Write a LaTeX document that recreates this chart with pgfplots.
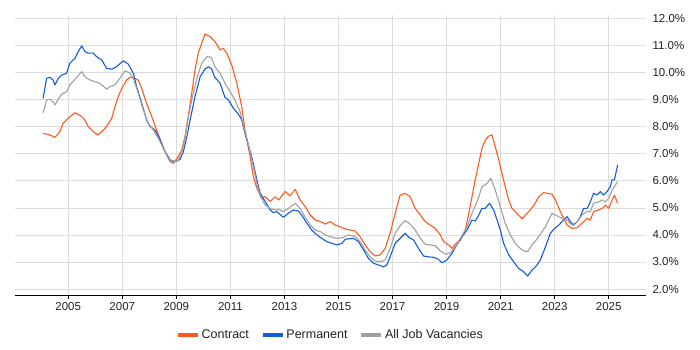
\documentclass[border=0pt]{standalone}
\usepackage{pgfplots}
\pgfplotsset{compat=1.18}
\usepackage{fontspec}
\setmainfont{Liberation Sans}
\definecolor{ccontract}{RGB}{255,90,30}
\definecolor{cperm}{RGB}{20,90,220}
\definecolor{call}{RGB}{160,160,160}
\definecolor{cgrid}{RGB}{220,220,220}
\definecolor{ctext}{RGB}{34,34,34}
\begin{document}
\begin{tikzpicture}[x=1pt,y=1pt]
\path[use as bounding box] (0,0) rectangle (700,350);
\begin{axis}[
  at={(15pt,55pt)}, anchor=south west,
  scale only axis, width=631pt, height=280pt,
  xmin=2003.03, xmax=2026.38, ymin=1.78, ymax=12.12,
  axis x line*=bottom, axis y line*=right,
  y axis line style={draw=none},
  x axis line style={black, line width=0.9pt},
  xtick={2005,2007,...,2025},
  ytick={2,3,...,12},
  xticklabel style={/pgf/number format/1000 sep={}, font=\fontsize{11.5}{13}\selectfont, text=ctext},
  x tick label style={/pgf/number format/assume math mode=true},
  yticklabel={\pgfmathprintnumber[fixed,fixed zerofill,precision=1]{\tick}\%},
  yticklabel style={font=\fontsize{11.5}{13}\selectfont, text=ctext, /pgf/number format/assume math mode=true, anchor=west, xshift=-1pt},
  ytick style={draw=none},
  xtick style={black, line width=0.6pt},
  tick align=outside, major tick length=4pt,
  xmajorgrids, ymajorgrids,
  grid style={cgrid, line width=0.6pt},
  clip=false,
  legend columns=3,
  legend style={at={(0.5,0)}, anchor=center, yshift=-40pt, draw=none, fill=none,
    font=\fontsize{12.5}{14}\selectfont, text=ctext,
    /tikz/every even column/.append style={column sep=10pt}},
  legend image code/.code={\draw[line width=3.5pt,#1] (0pt,0pt) -- (20pt,0pt);},
  every axis plot/.append style={line width=1.1pt, line join=round},
]
\addplot[ccontract] coordinates {
(2004.07,7.75)(2004.32,7.69)(2004.51,7.6)(2004.69,7.81)(2004.81,8.12)(2005.0,8.31)(2005.25,8.51)(2005.5,8.37)(2005.62,8.24)(2005.74,8.0)(2005.93,7.81)(2006.09,7.69)(2006.24,7.81)(2006.42,8.0)(2006.61,8.31)(2006.73,8.73)(2006.85,9.1)(2006.98,9.41)(2007.16,9.72)(2007.29,9.82)(2007.47,9.78)(2007.59,9.72)(2007.72,9.41)(2007.9,8.86)(2008.09,8.37)(2008.27,7.87)(2008.46,7.38)(2008.64,6.95)(2008.77,6.7)(2008.89,6.64)(2009.07,6.89)(2009.2,7.13)(2009.32,7.63)(2009.44,8.37)(2009.57,9.23)(2009.69,10.09)(2009.81,10.71)(2009.94,11.08)(2010.06,11.42)(2010.25,11.32)(2010.43,11.14)(2010.62,10.83)(2010.74,10.89)(2010.87,10.71)(2011.05,10.27)(2011.24,9.6)(2011.42,8.73)(2011.54,7.87)(2011.73,6.89)(2011.85,6.15)(2011.98,5.72)(2012.16,5.35)(2012.29,5.41)(2012.47,5.23)(2012.66,5.41)(2012.78,5.29)(2013.03,5.6)(2013.21,5.44)(2013.4,5.68)(2013.58,5.29)(2013.77,5.04)(2013.96,4.73)(2014.14,4.55)(2014.33,4.49)(2014.51,4.4)(2014.7,4.49)(2014.88,4.36)(2015.06,4.3)(2015.25,4.22)(2015.43,4.18)(2015.62,4.14)(2015.8,3.93)(2015.99,3.63)(2016.17,3.38)(2016.36,3.22)(2016.54,3.26)(2016.73,3.5)(2016.91,4.06)(2017.1,4.8)(2017.28,5.47)(2017.47,5.53)(2017.65,5.41)(2017.84,4.98)(2018.03,4.73)(2018.21,4.49)(2018.4,4.36)(2018.58,4.24)(2018.77,4.0)(2018.89,3.75)(2019.07,3.63)(2019.2,3.5)(2019.32,3.66)(2019.51,3.81)(2019.69,4.18)(2019.81,4.73)(2019.94,5.41)(2020.06,6.03)(2020.19,6.64)(2020.31,7.2)(2020.43,7.5)(2020.56,7.65)(2020.68,7.69)(2020.8,7.26)(2020.93,6.77)(2021.05,6.27)(2021.17,5.78)(2021.3,5.29)(2021.42,4.98)(2021.6,4.8)(2021.79,4.59)(2021.91,4.73)(2022.1,4.92)(2022.28,5.17)(2022.4,5.39)(2022.59,5.56)(2022.72,5.54)(2022.9,5.5)(2023.03,5.29)(2023.21,4.86)(2023.46,4.36)(2023.64,4.24)(2023.83,4.26)(2024.01,4.43)(2024.2,4.61)(2024.32,4.55)(2024.44,4.86)(2024.63,4.92)(2024.76,4.98)(2024.88,5.1)(2025.0,4.98)(2025.13,5.29)(2025.21,5.47)(2025.33,5.17)
};
\addlegendentry{Contract}
\addplot[cperm] coordinates {
(2004.07,9.04)(2004.2,9.78)(2004.32,9.82)(2004.44,9.72)(2004.51,9.54)(2004.63,9.78)(2004.76,9.9)(2004.94,9.97)(2005.06,10.34)(2005.25,10.52)(2005.37,10.77)(2005.5,10.98)(2005.62,10.77)(2005.74,10.71)(2005.93,10.71)(2006.05,10.58)(2006.24,10.46)(2006.42,10.15)(2006.61,10.12)(2006.79,10.21)(2007.04,10.43)(2007.22,10.31)(2007.41,9.97)(2007.53,9.47)(2007.72,8.86)(2007.9,8.24)(2008.03,8.0)(2008.21,7.87)(2008.4,7.5)(2008.58,7.07)(2008.77,6.77)(2008.96,6.7)(2009.14,6.79)(2009.26,7.07)(2009.39,7.63)(2009.51,8.24)(2009.69,9.1)(2009.88,9.84)(2010.06,10.12)(2010.19,10.21)(2010.31,10.12)(2010.41,9.84)(2010.62,9.6)(2010.8,9.08)(2010.93,8.98)(2011.11,8.68)(2011.3,8.46)(2011.42,8.24)(2011.54,7.75)(2011.79,6.89)(2011.98,6.03)(2012.1,5.54)(2012.29,5.23)(2012.47,4.92)(2012.59,4.82)(2012.72,4.86)(2012.96,4.65)(2013.15,4.8)(2013.33,4.92)(2013.52,4.88)(2013.64,4.73)(2013.83,4.43)(2014.01,4.18)(2014.2,4.0)(2014.38,3.87)(2014.57,3.75)(2014.76,3.69)(2014.94,3.63)(2015.13,3.69)(2015.25,3.84)(2015.56,3.87)(2015.74,3.75)(2015.93,3.44)(2016.11,3.13)(2016.3,2.95)(2016.48,2.89)(2016.67,2.82)(2016.79,2.89)(2016.91,3.19)(2017.1,3.69)(2017.28,3.87)(2017.47,4.06)(2017.6,3.91)(2017.78,3.81)(2017.96,3.5)(2018.15,3.22)(2018.33,3.19)(2018.52,3.17)(2018.7,3.1)(2018.83,2.97)(2019.01,3.07)(2019.2,3.32)(2019.38,3.63)(2019.57,3.93)(2019.76,4.18)(2019.94,4.55)(2020.06,4.51)(2020.19,4.73)(2020.31,4.98)(2020.43,4.98)(2020.59,5.17)(2020.74,4.92)(2020.87,4.55)(2020.99,4.18)(2021.11,3.69)(2021.3,3.26)(2021.48,3.01)(2021.67,2.76)(2021.85,2.64)(2022.0,2.48)(2022.16,2.7)(2022.35,2.89)(2022.47,3.07)(2022.66,3.56)(2022.84,4.06)(2022.96,4.2)(2023.15,4.36)(2023.33,4.55)(2023.46,4.67)(2023.58,4.49)(2023.7,4.36)(2023.83,4.49)(2023.95,4.67)(2024.07,4.98)(2024.2,4.98)(2024.32,5.22)(2024.44,5.54)(2024.57,5.47)(2024.69,5.6)(2024.81,5.47)(2024.94,5.6)(2025.06,5.78)(2025.12,6.03)(2025.21,6.03)(2025.33,6.58)
};
\addlegendentry{Permanent}
\addplot[call] coordinates {
(2004.07,8.51)(2004.2,8.98)(2004.32,9.01)(2004.44,8.92)(2004.51,8.8)(2004.63,9.01)(2004.76,9.2)(2004.94,9.29)(2005.06,9.54)(2005.25,9.75)(2005.5,10.03)(2005.62,9.84)(2005.8,9.72)(2005.99,9.66)(2006.17,9.6)(2006.42,9.38)(2006.54,9.47)(2006.73,9.54)(2006.91,9.78)(2007.1,10.06)(2007.29,9.97)(2007.41,9.78)(2007.59,9.23)(2007.78,8.61)(2007.96,8.12)(2008.15,7.87)(2008.33,7.57)(2008.52,7.2)(2008.7,6.83)(2008.89,6.67)(2009.07,6.77)(2009.2,7.01)(2009.32,7.57)(2009.44,8.31)(2009.57,8.98)(2009.76,9.78)(2009.94,10.34)(2010.13,10.58)(2010.29,10.56)(2010.43,10.21)(2010.62,9.97)(2010.8,9.6)(2010.99,9.29)(2011.17,8.98)(2011.36,8.55)(2011.48,8.06)(2011.6,7.6)(2011.79,6.8)(2011.98,5.9)(2012.1,5.45)(2012.29,5.1)(2012.47,4.98)(2012.66,4.92)(2012.81,4.94)(2012.96,4.86)(2013.15,4.98)(2013.4,5.17)(2013.58,4.98)(2013.77,4.65)(2013.96,4.36)(2014.14,4.18)(2014.33,4.12)(2014.51,4.0)(2014.7,3.93)(2014.94,3.87)(2015.19,3.91)(2015.37,4.0)(2015.62,3.93)(2015.8,3.75)(2015.99,3.44)(2016.17,3.19)(2016.36,3.03)(2016.54,3.01)(2016.73,3.07)(2016.91,3.5)(2017.1,4.06)(2017.28,4.33)(2017.47,4.53)(2017.65,4.4)(2017.84,4.18)(2018.03,3.87)(2018.21,3.65)(2018.4,3.63)(2018.58,3.6)(2018.77,3.41)(2018.96,3.29)(2019.14,3.34)(2019.32,3.56)(2019.51,3.87)(2019.76,4.3)(2019.94,4.8)(2020.13,5.22)(2020.31,5.78)(2020.5,5.9)(2020.64,6.09)(2020.8,5.66)(2020.99,5.04)(2021.17,4.43)(2021.36,4.0)(2021.54,3.69)(2021.73,3.5)(2021.85,3.41)(2022.0,3.38)(2022.16,3.63)(2022.35,3.85)(2022.47,4.03)(2022.66,4.3)(2022.9,4.8)(2023.09,4.7)(2023.27,4.61)(2023.46,4.55)(2023.64,4.36)(2023.83,4.49)(2024.01,4.73)(2024.2,4.86)(2024.32,4.86)(2024.44,5.17)(2024.63,5.22)(2024.76,5.29)(2024.88,5.22)(2025.0,5.35)(2025.13,5.66)(2025.21,5.78)(2025.33,5.97)
};
\addlegendentry{All Job Vacancies}
\end{axis}
\end{tikzpicture}
\end{document}
